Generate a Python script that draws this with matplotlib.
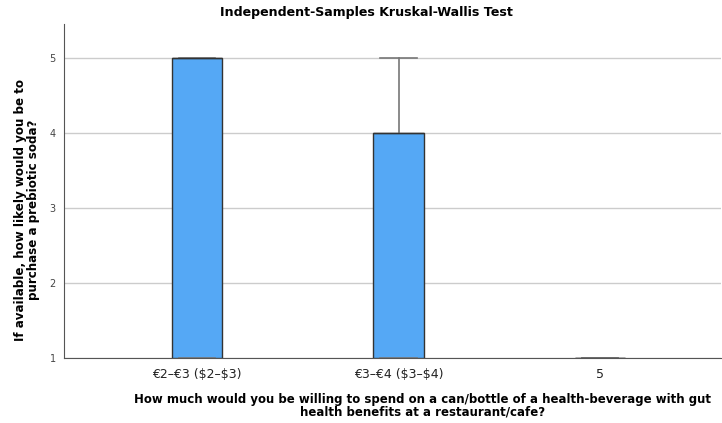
import matplotlib.pyplot as plt

groups = ["€2–€3 (\\$2–\\$3)", "€3–€4 (\\$3–\\$4)", "5"]
q1 = [1, 1, 1]
med = [5, 4, 1]
q3 = [5, 4, 1]
lo = [1, 1, 1]
hi = [5, 5, 1]
yticks = [1, 2, 3, 4, 5]

fig = plt.figure(figsize=(7.22, 4.23), dpi=100)
ax = fig.add_axes([64/722, 1 - 358/423, 657/722, (358 - 24)/423])

stats = []
for i in range(len(groups)):
    stats.append(dict(label=groups[i], q1=q1[i], med=med[i], q3=q3[i],
                      whislo=lo[i], whishi=hi[i], fliers=[]))

ax.bxp(stats, positions=[1, 2, 3], widths=0.25, patch_artist=True, showfliers=False,
       boxprops=dict(facecolor="#55a8f5", edgecolor="#333333", linewidth=1.0),
       medianprops=dict(color="#333333", linewidth=1.0),
       whiskerprops=dict(color="#777777", linewidth=1.2),
       capprops=dict(color="#777777", linewidth=1.2), capwidths=0.18, zorder=3)

ax.set_xlim(0.34, 3.6)
ax.set_ylim(1, 5.45)
ax.set_yticks(yticks)
ax.set_yticklabels([str(t) for t in yticks], fontsize=7, color="#444444")
ax.tick_params(axis="y", length=0, pad=6)
ax.tick_params(axis="x", length=0, pad=7, labelsize=9, labelcolor="#222222")
ax.yaxis.grid(True, color="#cccccc", linewidth=1.0)
ax.set_axisbelow(True)
for s in ["top", "right"]:
    ax.spines[s].set_visible(False)
ax.spines["left"].set_color("#555555")
ax.spines["bottom"].set_color("#555555")

ax.set_title("Independent-Samples Kruskal-Wallis Test", fontsize=9.1, fontweight="bold",
             pad=6, x=0.46)
ax.set_ylabel("If available, how likely would you be to\npurchase a prebiotic soda?",
              fontsize=8.6, fontweight="bold", labelpad=7, linespacing=0.95)
ax.yaxis.label.set_y(0.443)
ax.set_xlabel("How much would you be willing to spend on a can/bottle of a health-beverage with gut\nhealth benefits at a restaurant/cafe?",
              fontsize=8.5, fontweight="bold", labelpad=9, linespacing=0.95)
ax.xaxis.label.set_x(0.545)

fig.savefig("out.png", dpi=100)
